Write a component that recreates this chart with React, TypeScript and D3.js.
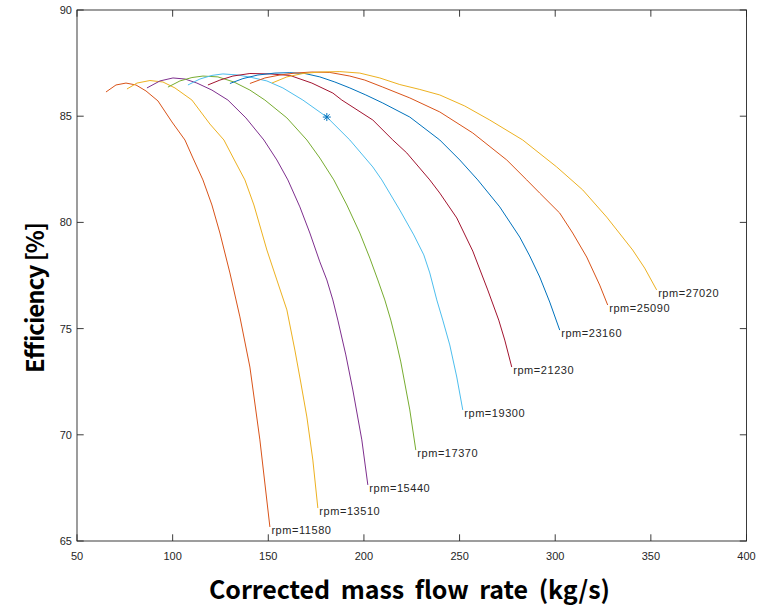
import React from 'react';
import * as d3 from 'd3';

const rpms = [11580, 13510, 15440, 17370, 19300, 21230, 23160, 25090, 27020];

const flow11580 = [65.15,70.38,75.60,80.83,86.05,92.32,99.63,106.43,110.61,115.83,120.53,124.71,129.94,135.16,140.39,145.61,150.84];
const eff11580 = [86.14,86.47,86.56,86.47,86.19,85.72,84.73,83.88,83.03,82.00,80.82,79.50,77.62,75.55,73.19,69.76,65.66];

const flow13510 = [76.12,81.35,88.14,94.93,101.20,110.08,119.49,126.80,132.55,137.77,142.48,149.27,154.49,159.72,163.90,167.03,170.17,173.30,175.91];
const eff13510 = [86.28,86.56,86.68,86.61,86.33,85.76,84.63,83.88,82.89,82.00,80.82,78.70,77.29,75.88,73.99,72.44,70.84,68.81,66.55];

const flow15440 = [86.57,93.36,100.16,106.43,112.70,120.53,128.89,138.30,147.70,154.49,160.24,166.51,171.73,176.96,180.62,183.75,186.36,190.54,194.20,198.90,202.04];
const eff15440 = [86.33,86.66,86.80,86.75,86.56,86.23,85.76,84.92,83.88,82.94,82.00,80.73,79.50,78.14,77.29,76.35,75.40,73.76,72.11,69.76,67.64];

const flow17370 = [97.54,103.81,110.08,115.83,123.67,132.03,140.39,148.22,159.72,170.17,176.96,184.27,191.07,197.86,203.08,207.26,210.92,214.05,216.67,219.28,223.98,227.12];
const eff17370 = [86.37,86.66,86.82,86.89,86.85,86.61,86.23,85.76,84.92,83.88,83.03,82.00,80.82,79.50,78.32,77.29,76.35,75.40,74.46,73.43,71.17,69.28];

const flow19300 = [107.99,114.26,120.53,126.28,134.12,141.43,149.27,157.63,168.08,180.62,192.63,204.65,209.35,218.76,226.07,231.30,234.43,238.09,241.22,244.88,248.54,251.67];
const eff19300 = [86.47,86.75,86.92,86.99,86.94,86.82,86.66,86.33,85.76,84.96,83.88,82.61,82.00,80.58,79.41,78.47,77.62,76.35,75.40,74.23,72.72,71.17];

const flow21230 = [118.44,124.71,131.50,140.39,150.84,161.29,172.78,183.75,188.45,204.65,215.10,222.41,234.43,239.66,248.54,256.90,264.73,270.48,273.62,277.27];
const eff21230 = [86.47,86.70,86.89,87.01,86.99,86.92,86.56,86.09,85.76,84.82,83.88,83.27,82.00,81.38,80.21,78.65,76.82,75.40,74.46,73.19];

const flow23160 = [129.94,136.73,144.57,153.45,161.29,169.12,176.96,184.80,192.63,200.99,209.87,223.98,239.66,250.10,259.51,271.00,281.45,286.68,291.90,297.13,302.35];
const eff23160 = [86.54,86.77,86.94,87.03,87.05,87.01,86.85,86.61,86.33,86.00,85.62,84.96,83.88,82.94,82.00,80.73,79.31,78.42,77.43,76.25,74.93];

const flow25090 = [140.39,148.22,156.06,163.90,172.78,182.18,192.63,200.47,209.87,223.98,239.66,256.90,274.66,285.11,291.90,302.35,309.14,316.46,323.25,327.43];
const eff25090 = [86.54,86.80,86.94,87.03,87.08,87.06,86.89,86.70,86.37,85.86,85.20,84.21,82.94,82.00,81.38,80.44,79.50,78.37,77.05,76.11];

const flow27020 = [151.88,159.72,168.08,176.96,187.41,197.86,208.31,218.76,229.21,239.66,252.72,265.78,283.02,300.78,314.37,326.91,340.49,346.76,353.03];
const eff27020 = [86.56,86.85,87.01,87.08,87.10,87.03,86.80,86.49,86.26,86.00,85.48,84.82,83.88,82.61,81.53,80.25,78.70,77.85,76.82];

const markerFlow = [180.6];
const markerEff = [84.96];

const xTicks = [50, 100, 150, 200, 250, 300, 350, 400];
const yTicks = [65, 70, 75, 80, 85, 90];

const flows = [flow11580, flow13510, flow15440, flow17370, flow19300, flow21230, flow23160, flow25090, flow27020];
const effs = [eff11580, eff13510, eff15440, eff17370, eff19300, eff21230, eff23160, eff25090, eff27020];
const colors = ['#D95319', '#EDB120', '#7E2F8E', '#77AC30', '#4DBEEE', '#A2142F', '#0072BD', '#D95319', '#EDB120'];

const W = 757;
const H = 605;
const L = 77, R = 746.5, T = 10, B = 541;

export default function App() {
  const x = d3.scaleLinear().domain([50, 400]).range([L, R]);
  const y = d3.scaleLinear().domain([65, 90]).range([B, T]);
  const line = d3.line<[number, number]>().x(d => x(d[0])).y(d => y(d[1]));
  const tickLen = 6.7;
  const axisColor = '#262626';
  const tickFont = 'Liberation Sans, Arial, sans-serif';
  const labelFont = "'Noto Sans CJK KR', 'Noto Sans', sans-serif";

  return (
    <svg width={W} height={H} style={{ position: 'absolute', left: 0, top: 0, background: '#fff' }}>
      <rect x={0} y={0} width={W} height={H} fill="#fff" />
      {flows.map((f, i) => {
        const pts: [number, number][] = f.map((v, j) => [v, effs[i][j]]);
        return <path key={i} d={line(pts) || ''} fill="none" stroke={colors[i]} strokeWidth={1} />;
      })}
      {flows.map((f, i) => {
        const n = f.length - 1;
        return (
          <text key={'l' + i} x={x(f[n]) + 1.5} y={y(effs[i][n]) + 3} fontFamily={tickFont} fontSize={11}
            letterSpacing={0.55} dominantBaseline="central" fill="#262626">
            {'rpm=' + rpms[i]}
          </text>
        );
      })}
      {markerFlow.map((mf, i) => {
        const cx = x(mf), cy = y(markerEff[i]);
        const r = 4;
        const d = `M${cx - r},${cy}L${cx + r},${cy}M${cx},${cy - r}L${cx},${cy + r}` +
          `M${cx - r * 0.7},${cy - r * 0.7}L${cx + r * 0.7},${cy + r * 0.7}M${cx - r * 0.7},${cy + r * 0.7}L${cx + r * 0.7},${cy - r * 0.7}`;
        return <path key={'m' + i} d={d} stroke="#0072BD" strokeWidth={1} fill="none" />;
      })}
      <rect x={L} y={T} width={R - L} height={B - T} fill="none" stroke={axisColor} strokeWidth={0.9} />
      {xTicks.map(t => (
        <g key={'x' + t}>
          <line x1={x(t)} x2={x(t)} y1={B} y2={B - tickLen} stroke={axisColor} strokeWidth={0.9} />
          <line x1={x(t)} x2={x(t)} y1={T} y2={T + tickLen} stroke={axisColor} strokeWidth={0.9} />
          <text x={x(t)} y={B + 15} textAnchor="middle" dominantBaseline="central" fontFamily={tickFont} fontSize={11} fill={axisColor}>{t}</text>
        </g>
      ))}
      {yTicks.map(t => (
        <g key={'y' + t}>
          <line x1={L} x2={L + tickLen} y1={y(t)} y2={y(t)} stroke={axisColor} strokeWidth={0.9} />
          <line x1={R} x2={R - tickLen} y1={y(t)} y2={y(t)} stroke={axisColor} strokeWidth={0.9} />
          <text x={L - 5} y={y(t)} textAnchor="end" dominantBaseline="central" fontFamily={tickFont} fontSize={11} fill={axisColor}>{t}</text>
        </g>
      ))}
      <text x={409.5} y={588} textAnchor="middle" dominantBaseline="central"
        fontFamily={labelFont} fontWeight="bold" fontSize={25} wordSpacing={5} fill="#000"
        textLength={401} lengthAdjust="spacing">
        Corrected mass flow rate (kg/s)
      </text>
      <text transform={`translate(33,297.5) rotate(-90)`} textAnchor="middle" dominantBaseline="central"
        fontFamily={labelFont} fontWeight="bold" fontSize={24} fill="#000"
        textLength={151} lengthAdjust="spacing">
        Efficiency [%]
      </text>
    </svg>
  );
}
